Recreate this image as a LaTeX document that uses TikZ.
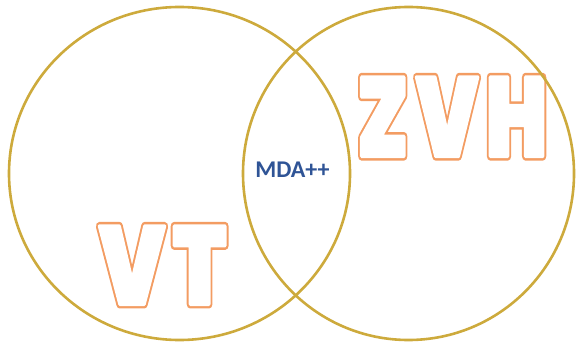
\documentclass[tikz,border=0pt]{standalone}
\usepackage{fontspec}
\setsansfont{Carlito}
\newfontfamily\heavyfont{Poppins Black}
\definecolor{ringgold}{HTML}{CDAA3C}
\definecolor{hollow}{HTML}{F39C62}
\definecolor{mdablue}{HTML}{2F5496}

% hollow letters: wide orange stroke, then white fill with a narrower white stroke
\newcommand{\hollowtext}[1]{\rlap{\textcolor{hollow}{\special{pdf:literal 1 Tr 9.5 w 1 j}#1}}%
	\textcolor{white}{\special{pdf:literal 2 Tr 4 w 1 j}#1}\special{pdf:literal 0 Tr}}

\begin{document}
\begin{tikzpicture}[x=1pt, y=-1pt,
	ring/.style={draw=ringgold, line width=2.6pt},
	big/.style={inner sep=0pt, anchor=north west, font=\heavyfont\fontsize{123}{123}\selectfont}]
	\useasboundingbox (0,0) rectangle (577,347);
	\node (vt) at (99,226) [big] {\resizebox{127pt}{78pt}{\hollowtext{V\kern12ptT}}};
	\node (zvh) at (357,77) [big] {\resizebox{190pt}{79pt}{\hollowtext{Z\kern12ptV\kern12ptH}}};
	\draw[ring] (179.5,173.5) ellipse [x radius=170.5, y radius=166.5];
	\draw[ring] (408.5,173.5) ellipse [x radius=165.5, y radius=166.5];
	\node (mda) at (292.5,170) [text=mdablue, font=\sffamily\bfseries\fontsize{24}{24}\selectfont] {MDA++};
\end{tikzpicture}
\end{document}
